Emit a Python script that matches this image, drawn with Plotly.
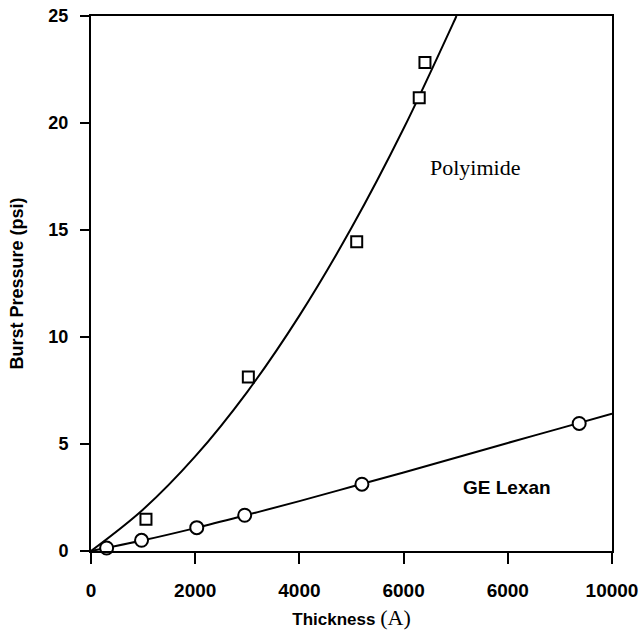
import plotly.graph_objects as go

# ---- data ----
# measured points
lexan_x = [300, 970, 2030, 2950, 5200, 9370]
lexan_y = [0.14, 0.50, 1.09, 1.67, 3.12, 5.96]

polyimide_x = [1055, 3020, 5100, 6300, 6410]
polyimide_y = [1.48, 8.13, 14.45, 21.18, 22.83]

# drawn fit curves
lexan_curve_x = [0, 1000, 2000, 3000, 4000, 5000, 6000, 7000, 8000, 9000, 10000]
lexan_curve_y = [0, 0.50, 1.07, 1.69, 2.33, 3.00, 3.67, 4.36, 5.05, 5.73, 6.42]

poly_curve_x = [0, 1000, 2000, 3000, 4000, 5000, 6000, 7000, 7015]
poly_curve_y = [0, 1.94, 4.42, 7.44, 11.00, 15.10, 19.74, 24.92, 25.0]

x_tickvals = [0, 2000, 4000, 6000, 8000, 10000]
x_ticktext = ["0", "2000", "4000", "6000", "6000", "10000"]
y_tickvals = [0, 5, 10, 15, 20, 25]
y_ticktext = ["0", "5", "10", "15", "20", "25"]

SANS = "Liberation Sans, Arial, sans-serif"
SERIF = "Liberation Serif, Times New Roman, serif"

fig = go.Figure()

fig.add_trace(go.Scatter(x=poly_curve_x, y=poly_curve_y, mode="lines",
                         line=dict(color="black", width=2, shape="spline"),
                         hoverinfo="skip", showlegend=False))
fig.add_trace(go.Scatter(x=lexan_curve_x, y=lexan_curve_y, mode="lines",
                         line=dict(color="black", width=2, shape="spline"),
                         hoverinfo="skip", showlegend=False))
fig.add_trace(go.Scatter(x=polyimide_x, y=polyimide_y, mode="markers",
                         marker=dict(symbol="square", size=11, color="white",
                                     line=dict(color="black", width=2)),
                         cliponaxis=False, showlegend=False, name="Polyimide"))
fig.add_trace(go.Scatter(x=lexan_x, y=lexan_y, mode="markers",
                         marker=dict(symbol="circle", size=13, color="white",
                                     line=dict(color="black", width=2)),
                         cliponaxis=False, showlegend=False, name="GE Lexan"))

fig.add_annotation(x=7376, y=17.9, xref="x", yref="y", text="Polyimide",
                   showarrow=False, font=dict(family=SERIF, size=22, color="black"))
fig.add_annotation(x=7990, y=2.95, xref="x", yref="y", text="<b>GE Lexan</b>",
                   showarrow=False, font=dict(family=SANS, size=19, color="black"))

fig.update_xaxes(range=[0, 10000], tickmode="array", tickvals=x_tickvals,
                 ticktext=x_ticktext, ticks="outside", ticklen=11, tickwidth=2,
                 tickcolor="black", showline=True, linecolor="black", linewidth=2,
                 mirror=True, showgrid=False, zeroline=False, automargin=False,
                 ticklabelstandoff=10,
                 tickfont=dict(family=SANS, size=19, color="black", weight="bold"),
                 title=dict(text='<b>Thickness</b> <span style="font-family:Liberation Serif;font-size:22px">(A)</span>',
                            font=dict(family=SANS, size=17, color="black"),
                            standoff=14))
fig.update_yaxes(range=[0, 25], tickmode="array", tickvals=y_tickvals,
                 ticktext=y_ticktext, ticks="outside", ticklen=9, tickwidth=2,
                 tickcolor="black", showline=True, linecolor="black", linewidth=2,
                 mirror=True, showgrid=False, zeroline=False, automargin=False,
                 ticklabelstandoff=8,
                 tickfont=dict(family=SANS, size=18, color="black", weight="bold"),
                 title=dict(text="<b>Burst Pressure (psi)</b>",
                            font=dict(family=SANS, size=18, color="black"),
                            standoff=20))

fig.update_layout(width=639, height=630,
                  margin=dict(l=91, r=27, t=16, b=79),
                  paper_bgcolor="white", plot_bgcolor="white")

fig.write_html("out.html")
